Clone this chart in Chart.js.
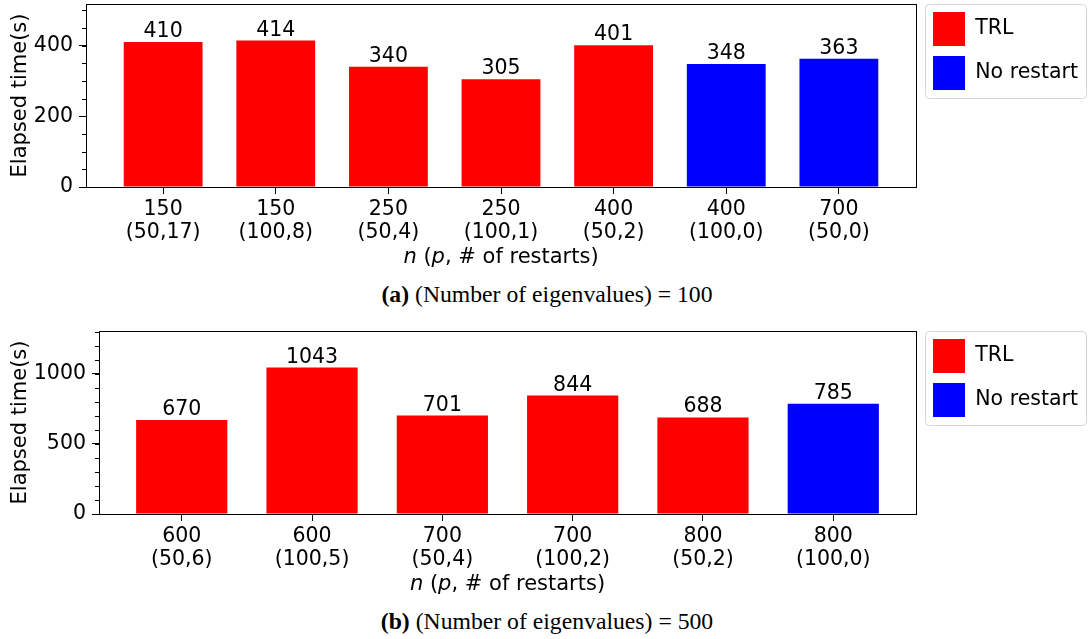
<!DOCTYPE html>
<html>
<head>
<meta charset="utf-8">
<title>Elapsed time</title>
<script src="https://cdn.jsdelivr.net/npm/chart.js@4.4.1/dist/chart.umd.min.js"></script>
<style>
    body { margin: 0; background: #fff; width: 1088px; height: 639px; overflow: hidden; position: relative; }
    .panel { position: absolute; left: 0; width: 1088px; height: 280px; }
    .caption { position: absolute; left: 3px; width: 1088px; text-align: center; font-family: "Liberation Serif", "Times New Roman", serif; font-size: 23.7px; line-height: 27px; color: #000; }
</style>
</head>
<body>
<div class="panel" style="top:0"><canvas id="chartA"></canvas></div>
<div class="caption" style="top:281px"><b>(a)</b> (Number of eigenvalues) = 100</div>
<div class="panel" style="top:327px"><canvas id="chartB"></canvas></div>
<div class="caption" style="top:608px"><b>(b)</b> (Number of eigenvalues) = 500</div>

<script>
// (a) number of eigenvalues = 100
const nA = ['150', '150', '250', '250', '400', '400', '700'];
const paramsA = ['(50,17)', '(100,8)', '(50,4)', '(100,1)', '(50,2)', '(100,0)', '(50,0)'];
const timesA = [410, 414, 340, 305, 401, 348, 363];
const kindA = ['TRL', 'TRL', 'TRL', 'TRL', 'TRL', 'No restart', 'No restart'];
const yTicksA = [0, 200, 400];

// (b) number of eigenvalues = 500
const nB = ['600', '600', '700', '700', '800', '800'];
const paramsB = ['(50,6)', '(100,5)', '(50,4)', '(100,2)', '(50,2)', '(100,0)'];
const timesB = [670, 1043, 701, 844, 688, 785];
const kindB = ['TRL', 'TRL', 'TRL', 'TRL', 'TRL', 'No restart'];
const yTicksB = [0, 500, 1000];

const seriesNames = ['TRL', 'No restart'];
const seriesColors = ['#ff0000', '#0000ff'];

Chart.defaults.font.family = '"DejaVu Sans", sans-serif';
Chart.defaults.font.size = 20.5;
Chart.defaults.color = '#000';

// spines on all sides, minor y ticks, value labels, x title with italics, legend frame
const extrasPlugin = {
    id: 'extras',
    afterDatasetsDraw(chart, args, opts) {
        const ctx = chart.ctx;
        const a = chart.chartArea;
        const y = chart.scales.y;
        ctx.save();
        ctx.strokeStyle = '#000';
        ctx.lineWidth = 1;
        ctx.strokeRect(Math.round(a.left) + 0.5, Math.round(a.top) + 0.5,
            Math.round(a.right - a.left), Math.round(a.bottom - a.top));

        ctx.beginPath();
        for (let v = 0; v <= y.max; v += opts.minorStep) {
            const py = Math.round(y.getPixelForValue(v)) + 0.5;
            ctx.moveTo(a.left, py);
            ctx.lineTo(a.left - 4, py);
        }
        ctx.stroke();

        ctx.fillStyle = '#000';
        ctx.font = '20.5px "DejaVu Sans"';
        ctx.textAlign = 'center';
        ctx.textBaseline = 'alphabetic';
        chart.data.datasets.forEach(function (ds, di) {
            const meta = chart.getDatasetMeta(di);
            meta.data.forEach(function (bar, i) {
                ctx.fillText(String(ds.data[i].y), bar.x, bar.y - 5);
            });
        });

        // x axis title: n (p, # of restarts)
        const parts = [['n', true], [' (', false], ['p', true], [', # of restarts)', false]];
        let total = 0;
        parts.forEach(function (p) {
            ctx.font = (p[1] ? 'italic ' : '') + '21px "DejaVu Sans"';
            total += ctx.measureText(p[0]).width;
        });
        let tx = (a.left + a.right) / 2 - total / 2;
        ctx.textAlign = 'left';
        ctx.textBaseline = 'middle';
        parts.forEach(function (p) {
            ctx.font = (p[1] ? 'italic ' : '') + '21px "DejaVu Sans"';
            ctx.fillText(p[0], tx, a.bottom + 71);
            tx += ctx.measureText(p[0]).width;
        });
        ctx.restore();
    },
    afterDraw(chart) {
        const lg = chart.legend;
        if (!lg || !lg.legendHitBoxes || !lg.legendHitBoxes.length) return;
        const boxes = lg.legendHitBoxes;
        const first = boxes[0];
        const last = boxes[boxes.length - 1];
        const left = first.left - 8;
        const top = first.top - 8;
        const right = chart.width - 1;
        const bottom = last.top + last.height + 8;
        const ctx = chart.ctx;
        ctx.save();
        ctx.strokeStyle = '#d4d4d4';
        ctx.lineWidth = 1;
        ctx.beginPath();
        ctx.roundRect(Math.round(left) + 0.5, Math.round(top) + 0.5,
            Math.round(right - left) - 1, Math.round(bottom - top), 4);
        ctx.stroke();
        ctx.restore();
    }
};

function makeChart(id, labels, params, times, kinds, yTicks, yMax, minorStep, yWidth, gapRight) {
    const count = labels.length;
    const margin = 0.05 * (count - 1 + 0.7);

    const datasets = seriesNames.map(function (name, s) {
        const points = [];
        times.forEach(function (t, i) {
            if (kinds[i] === name) points.push({ x: i, y: t });
        });
        return {
            label: name,
            data: points,
            backgroundColor: seriesColors[s],
            borderWidth: 0,
            grouped: false,
            categoryPercentage: 1,
            barPercentage: 0.7
        };
    });

    return new Chart(document.getElementById(id), {
        type: 'bar',
        data: { datasets: datasets },
        plugins: [extrasPlugin],
        options: {
            responsive: true,
            maintainAspectRatio: false,
            animation: false,
            layout: { padding: { top: 2, right: 0, left: 0, bottom: 0 } },
            plugins: {
                tooltip: { enabled: false },
                extras: { minorStep: minorStep },
                legend: {
                    position: 'right',
                    align: 'start',
                    labels: {
                        boxWidth: 32,
                        boxHeight: 34,
                        padding: 10,
                        color: '#000',
                        font: { size: 20.5 }
                    }
                }
            },
            scales: {
                x: {
                    type: 'linear',
                    offset: false,
                    min: -0.35 - margin,
                    max: count - 1 + 0.35 + margin,
                    afterBuildTicks: function (scale) {
                        scale.ticks = labels.map(function (_, i) { return { value: i }; });
                    },
                    afterFit: function (scale) {
                        scale.height = 93;
                        scale.paddingLeft = 0;
                        scale.paddingRight = 0;
                    },
                    ticks: {
                        autoSkip: false,
                        maxRotation: 0,
                        padding: 4,
                        color: '#000',
                        font: { size: 20.5, lineHeight: 1.14 },
                        callback: function (value) { return [labels[value], params[value]]; }
                    },
                    grid: { drawOnChartArea: false, offset: false, tickLength: 7, tickColor: '#000' },
                    border: { color: '#000', width: 1 }
                },
                y: {
                    min: 0,
                    max: yMax,
                    afterBuildTicks: function (scale) {
                        scale.ticks = yTicks.map(function (v) { return { value: v }; });
                    },
                    afterFit: function (scale) {
                        scale.width = yWidth;
                        scale.paddingTop = 4;
                        scale.paddingBottom = 0;
                    },
                    ticks: {
                        padding: 6,
                        color: '#000',
                        font: { size: 20.5 },
                        callback: function (value) { return String(value); }
                    },
                    grid: { drawOnChartArea: false, tickLength: 7, tickColor: '#000' },
                    border: { color: '#000', width: 1 },
                    title: {
                        display: true,
                        text: 'Elapsed time(s)',
                        color: '#000',
                        font: { size: 21 },
                        padding: { top: 8, bottom: 0 }
                    }
                },
                gap: {
                    type: 'linear',
                    axis: 'y',
                    position: 'right',
                    display: true,
                    afterFit: function (scale) {
                        scale.width = gapRight;
                        scale.paddingTop = 0;
                        scale.paddingBottom = 0;
                    },
                    ticks: { display: false },
                    grid: { display: false },
                    border: { display: false }
                }
            }
        }
    });
}

makeChart('chartA', nA, paramsA, timesA, kindA, yTicksA, 517.5, 50, 86, 7);
makeChart('chartB', nB, paramsB, timesB, kindB, yTicksB, 1303.75, 100, 99, 7);
</script>
</body>
</html>
